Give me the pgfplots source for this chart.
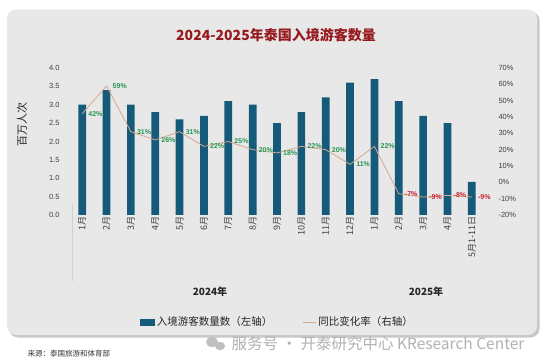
\documentclass[border=0pt]{standalone}
\usepackage{pgfplots}
\pgfplotsset{compat=1.18}
\usepackage{pgfplotstable}
\usepackage{fontspec}
\setmainfont{Liberation Sans}
\newfontfamily\cjk{Noto Sans CJK SC}
\definecolor{barcol}{RGB}{22,90,122}
\definecolor{linecol}{RGB}{214,168,140}
\definecolor{posgreen}{RGB}{40,150,80}
\definecolor{negred}{RGB}{200,30,45}
\definecolor{titred}{RGB}{150,25,30}
\definecolor{bggray}{RGB}{232,232,232}
\definecolor{ticktxt}{RGB}{64,64,64}

\pgfplotstableread{
x v
0 3.0
1 3.4
2 3.0
3 2.8
4 2.6
5 2.7
6 3.1
7 3.0
8 2.5
9 2.8
10 3.2
11 3.6
12 3.7
13 3.1
14 2.7
15 2.5
16 0.9
}\visitors

\pgfplotstableread{
x r
0 42
1 59
2 31
3 26
4 31
5 22
6 25
7 20
8 18
9 22
10 20
11 11
12 22
13 -7
14 -9
15 -8
16 -9
}\yoy

\pgfplotstableread{
x r
0 42
1 59
2 31
3 26
4 31
5 22
6 25
7 20
8 18
9 22
10 20
11 11
12 22
}\yoypos

\pgfplotstableread{
x r
13 -7
14 -9
15 -8
16 -9
}\yoyneg

\begin{document}
\begin{tikzpicture}
\path[use as bounding box] (0,0) rectangle (545pt,361pt);
\fill[white] (0,0) rectangle (545pt,361pt);
\fill[black!22, rounded corners=9pt] (9pt,23.5pt) rectangle (539.5pt,349.5pt);
\fill[bggray, rounded corners=9pt] (7pt,26pt) rectangle (537pt,351.5pt);

% title
\node[font=\cjk\bfseries\fontsize{14}{16}\selectfont, text=titred] at (276pt,326pt) {2024-2025年泰国入境游客数量};
% y label
\node[font=\cjk\fontsize{11}{12}\selectfont, text=black!85, rotate=90] at (22pt,236pt) {百万人次};
% group separator line
\draw[black!18, line width=0.6pt] (72pt,156pt) -- (72pt,80pt);
% group labels
\node[font=\cjk\bfseries\fontsize{10}{12}\selectfont, text=black!85] at (210pt,69pt) {2024年};
\node[font=\cjk\bfseries\fontsize{10}{12}\selectfont, text=black!85] at (426pt,69pt) {2025年};
% source and watermark
\node[font=\cjk\fontsize{7.5}{9}\selectfont, text=black!80, anchor=west] at (24pt,7pt) {来源：泰国旅游和体育部};
\fill[black!25] (212pt,19pt) ellipse (6pt and 5pt);
\fill[black!25] (220pt,15pt) ellipse (5pt and 4.2pt);
\node[font=\cjk\fontsize{15.5}{17}\selectfont, text=black!30, anchor=east] at (528pt,17pt) {服务号 · 开泰研究中心 KResearch Center};

\begin{axis}[
  at={(70pt,146pt)}, anchor=south west,
  scale only axis, width=414pt, height=147pt,
  xmin=-0.5, xmax=16.5, ymin=0, ymax=4,
  ybar, bar width=7.7pt,
  axis line style={draw=none}, tick style={draw=none},
  major tick length=0pt,
  xtick=data,
  xticklabels={1月,2月,3月,4月,5月,6月,7月,8月,9月,10月,11月,12月,1月,2月,3月,4月,5月1-11日},
  xticklabel style={rotate=90, anchor=east, font=\cjk\fontsize{9}{10}\selectfont, text=ticktxt, inner sep=1pt},
  ytick={0,0.5,...,4},
  yticklabel style={font=\fontsize{7.5}{9}\selectfont, text=ticktxt, /pgf/number format/fixed, /pgf/number format/fixed zerofill, /pgf/number format/precision=1, xshift=-7pt},
  /pgf/number format/assume math mode=true,
  legend columns=2,
  legend style={at={(0.501,-0.728)}, anchor=center, draw=none, fill=none,
    font=\cjk\fontsize{10.5}{12}\selectfont, text=black!85,
    /tikz/every even column/.append style={column sep=28pt}},
]
\addplot[fill=barcol, draw=none, legend image code/.code={\fill[barcol] (0pt,-3.5pt) rectangle (15pt,3.5pt);}] table[x=x, y=v] {\visitors};
\addlegendentry{入境游客数量数（左轴）}
\addlegendimage{legend image code/.code={\draw[linecol, line width=1pt] (0pt,0pt) -- (13pt,0pt);}}
\addlegendentry{同比变化率（右轴）}
\end{axis}

\begin{axis}[
  at={(70pt,146pt)}, anchor=south west,
  scale only axis, width=414pt, height=147pt,
  xmin=-0.5, xmax=16.5, ymin=-20, ymax=70,
  hide x axis,
  axis y line*=right,
  axis line style={draw=none}, tick style={draw=none},
  major tick length=0pt,
  ytick={-20,-10,...,70},
  yticklabel={\pgfmathprintnumber{\tick}\%},
  yticklabel style={font=\fontsize{7.5}{9}\selectfont, text=ticktxt, xshift=11pt},
  /pgf/number format/assume math mode=true,
  clip=false,
]
\addplot[linecol, line width=0.8pt, mark=none] table[x=x, y=r] {\yoy};
\addplot[draw=none, mark=none, nodes near coords={\pgfmathprintnumber{\pgfplotspointmeta}\%},
  point meta=y,
  every node near coord/.style={anchor=west, xshift=5pt, inner sep=1pt, font=\bfseries\fontsize{7}{8}\selectfont, text=posgreen}] table[x=x, y=r] {\yoypos};
\addplot[draw=none, mark=none, nodes near coords={\pgfmathprintnumber{\pgfplotspointmeta}\%},
  point meta=y,
  every node near coord/.style={anchor=west, xshift=5pt, inner sep=1pt, font=\bfseries\fontsize{7}{8}\selectfont, text=negred}] table[x=x, y=r] {\yoyneg};
\end{axis}
\end{tikzpicture}
\end{document}
